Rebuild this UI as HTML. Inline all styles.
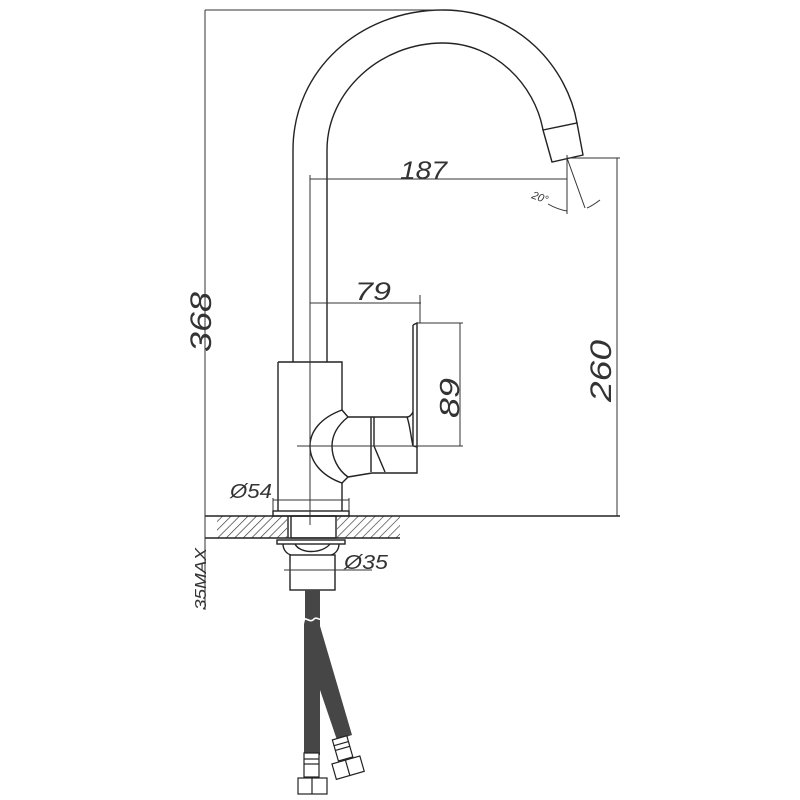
<!DOCTYPE html>
<html><head><meta charset="utf-8"><style>html,body{margin:0;padding:0;background:#fff}svg{display:block}</style></head>
<body>
<svg width="800" height="800" viewBox="0 0 800 800" xmlns="http://www.w3.org/2000/svg">
<defs>
<pattern id="h" width="6" height="6" patternUnits="userSpaceOnUse" patternTransform="rotate(45)">
<line x1="0" y1="0" x2="0" y2="6" stroke="#333" stroke-width="1.3"/>
</pattern>
</defs>
<g fill="none" stroke="#222" stroke-width="1.4">
<path d="M293,362 L293,150 C293,70 360,10 443,10 C520,10 568,70 577,123"/>
<path d="M327,362 L327,150 C327,92 380,43 443,43 C495,43 535,85 543,130"/>
<path d="M543,130 L577,123 L583,155 L552,162 Z"/>
<path d="M278,362 L342,362 L342,410"/>
<path d="M278,362 L278,511"/>
<path d="M342,483 L342,511"/>
<path d="M342,410 C320,418 310,432 310,446 C310,462 322,476 342,483"/>
<path d="M348,417 C338,425 332,435 332,446 C332,458 338,470 348,477"/>
<path d="M342,410 L348,417"/><path d="M342,483 L348,477"/>
<path d="M348,417 L407,417 C410,417 412,414 413,412"/>
<path d="M348,477 L372,473 L417,473 L417,447"/>
<path d="M371,417 L371,472"/><path d="M374,417 L374,446 L385,472"/>
<path d="M407,417 C410,425 411,438 413,446"/>
<path d="M413,325 L413,446 L417,447 L417,323 L413,325"/>
<rect x="273" y="511" width="76" height="5"/>
</g>
<rect x="217" y="516" width="70" height="22" fill="url(#h)"/>
<rect x="337" y="516" width="63" height="22" fill="url(#h)"/>
<g fill="none" stroke="#222" stroke-width="1.4">
<line x1="205" y1="516" x2="620" y2="516"/>
<line x1="205" y1="538" x2="400" y2="538"/>
<rect x="291" y="516" width="45" height="22"/>
<line x1="288" y1="516" x2="288" y2="538"/>
<rect x="277" y="540" width="68" height="4"/>
<path d="M283,544 C283,550 287,554 291,555 M339,544 C339,550 335,554 331,555"/>
<path d="M295,544 C300,554 322,554 330,544"/>
<rect x="290" y="555" width="45" height="35"/>
</g>
<g fill="#464646">
<path d="M305,590 L320,590 L320,626 L352,735 L337,740 L320,690 L320,755 L304,755 L304,624 L305,620 Z"/>
</g>
<path d="M302,620 C306,616 310,624 314,619 C317,616 320,622 323,618" fill="none" stroke="#fff" stroke-width="1.6"/>
<g fill="#fff" stroke="#222" stroke-width="1.2">
<rect x="304" y="753" width="15" height="24"/>
<line x1="304" y1="759" x2="319" y2="759"/><line x1="304" y1="764" x2="319" y2="764"/>
<rect x="298" y="778" width="29" height="16"/>
<line x1="312" y1="778" x2="312" y2="794"/>
<g transform="rotate(-16 345 755)">
<rect x="337" y="737" width="15" height="22"/>
<line x1="337" y1="743" x2="352" y2="743"/><line x1="337" y1="748" x2="352" y2="748"/>
<rect x="330" y="760" width="29" height="16"/>
<line x1="344" y1="760" x2="344" y2="776"/>
</g>
</g>
<g fill="none" stroke="#333" stroke-width="1">
<line x1="205" y1="10" x2="443" y2="10"/>
<line x1="205" y1="10" x2="205" y2="610"/>
<line x1="310" y1="175" x2="310" y2="525"/>
<line x1="310" y1="179" x2="567" y2="179"/>
<line x1="567" y1="155" x2="567" y2="214"/>
<line x1="567" y1="158" x2="620" y2="158"/>
<line x1="617" y1="158" x2="617" y2="516"/>
<line x1="567" y1="158" x2="585" y2="208"/>
<path d="M548,204 C555,208 561,210 567,211"/>
<path d="M587,208 C592,206 596,203 600,200"/>
<line x1="310" y1="303" x2="421" y2="303"/>
<line x1="420" y1="295" x2="420" y2="323"/>
<line x1="417" y1="323" x2="463" y2="323"/>
<line x1="460" y1="323" x2="460" y2="446"/>
<line x1="297" y1="446" x2="463" y2="446"/>
<line x1="273" y1="500" x2="349" y2="500"/>
<line x1="273" y1="498" x2="273" y2="511"/><line x1="349" y1="498" x2="349" y2="511"/>
<line x1="284" y1="570" x2="372" y2="570"/>
<line x1="290" y1="562" x2="290" y2="574"/>
</g>
<g fill="#333" font-family="'Liberation Sans',sans-serif" font-style="italic">
<text x="400" y="179" font-size="25" textLength="47" lengthAdjust="spacingAndGlyphs">187</text>
<text x="355" y="300" font-size="25" textLength="36" lengthAdjust="spacingAndGlyphs">79</text>
<text x="230" y="498" font-size="20" textLength="42" lengthAdjust="spacingAndGlyphs">Ø54</text>
<text x="344" y="569" font-size="20" textLength="44" lengthAdjust="spacingAndGlyphs">Ø35</text>
<text transform="translate(531,198) rotate(20)" font-size="11">20°</text>
<text transform="translate(211,352) rotate(-90)" font-size="30" textLength="60" lengthAdjust="spacingAndGlyphs">368</text>
<text transform="translate(611,402) rotate(-90)" font-size="30" textLength="62" lengthAdjust="spacingAndGlyphs">260</text>
<text transform="translate(459,418) rotate(-90)" font-size="28" textLength="40" lengthAdjust="spacingAndGlyphs">89</text>
<text transform="translate(206,610) rotate(-90)" font-size="16" textLength="62" lengthAdjust="spacingAndGlyphs">35MAX</text>
</g>
</svg>
</body></html>
